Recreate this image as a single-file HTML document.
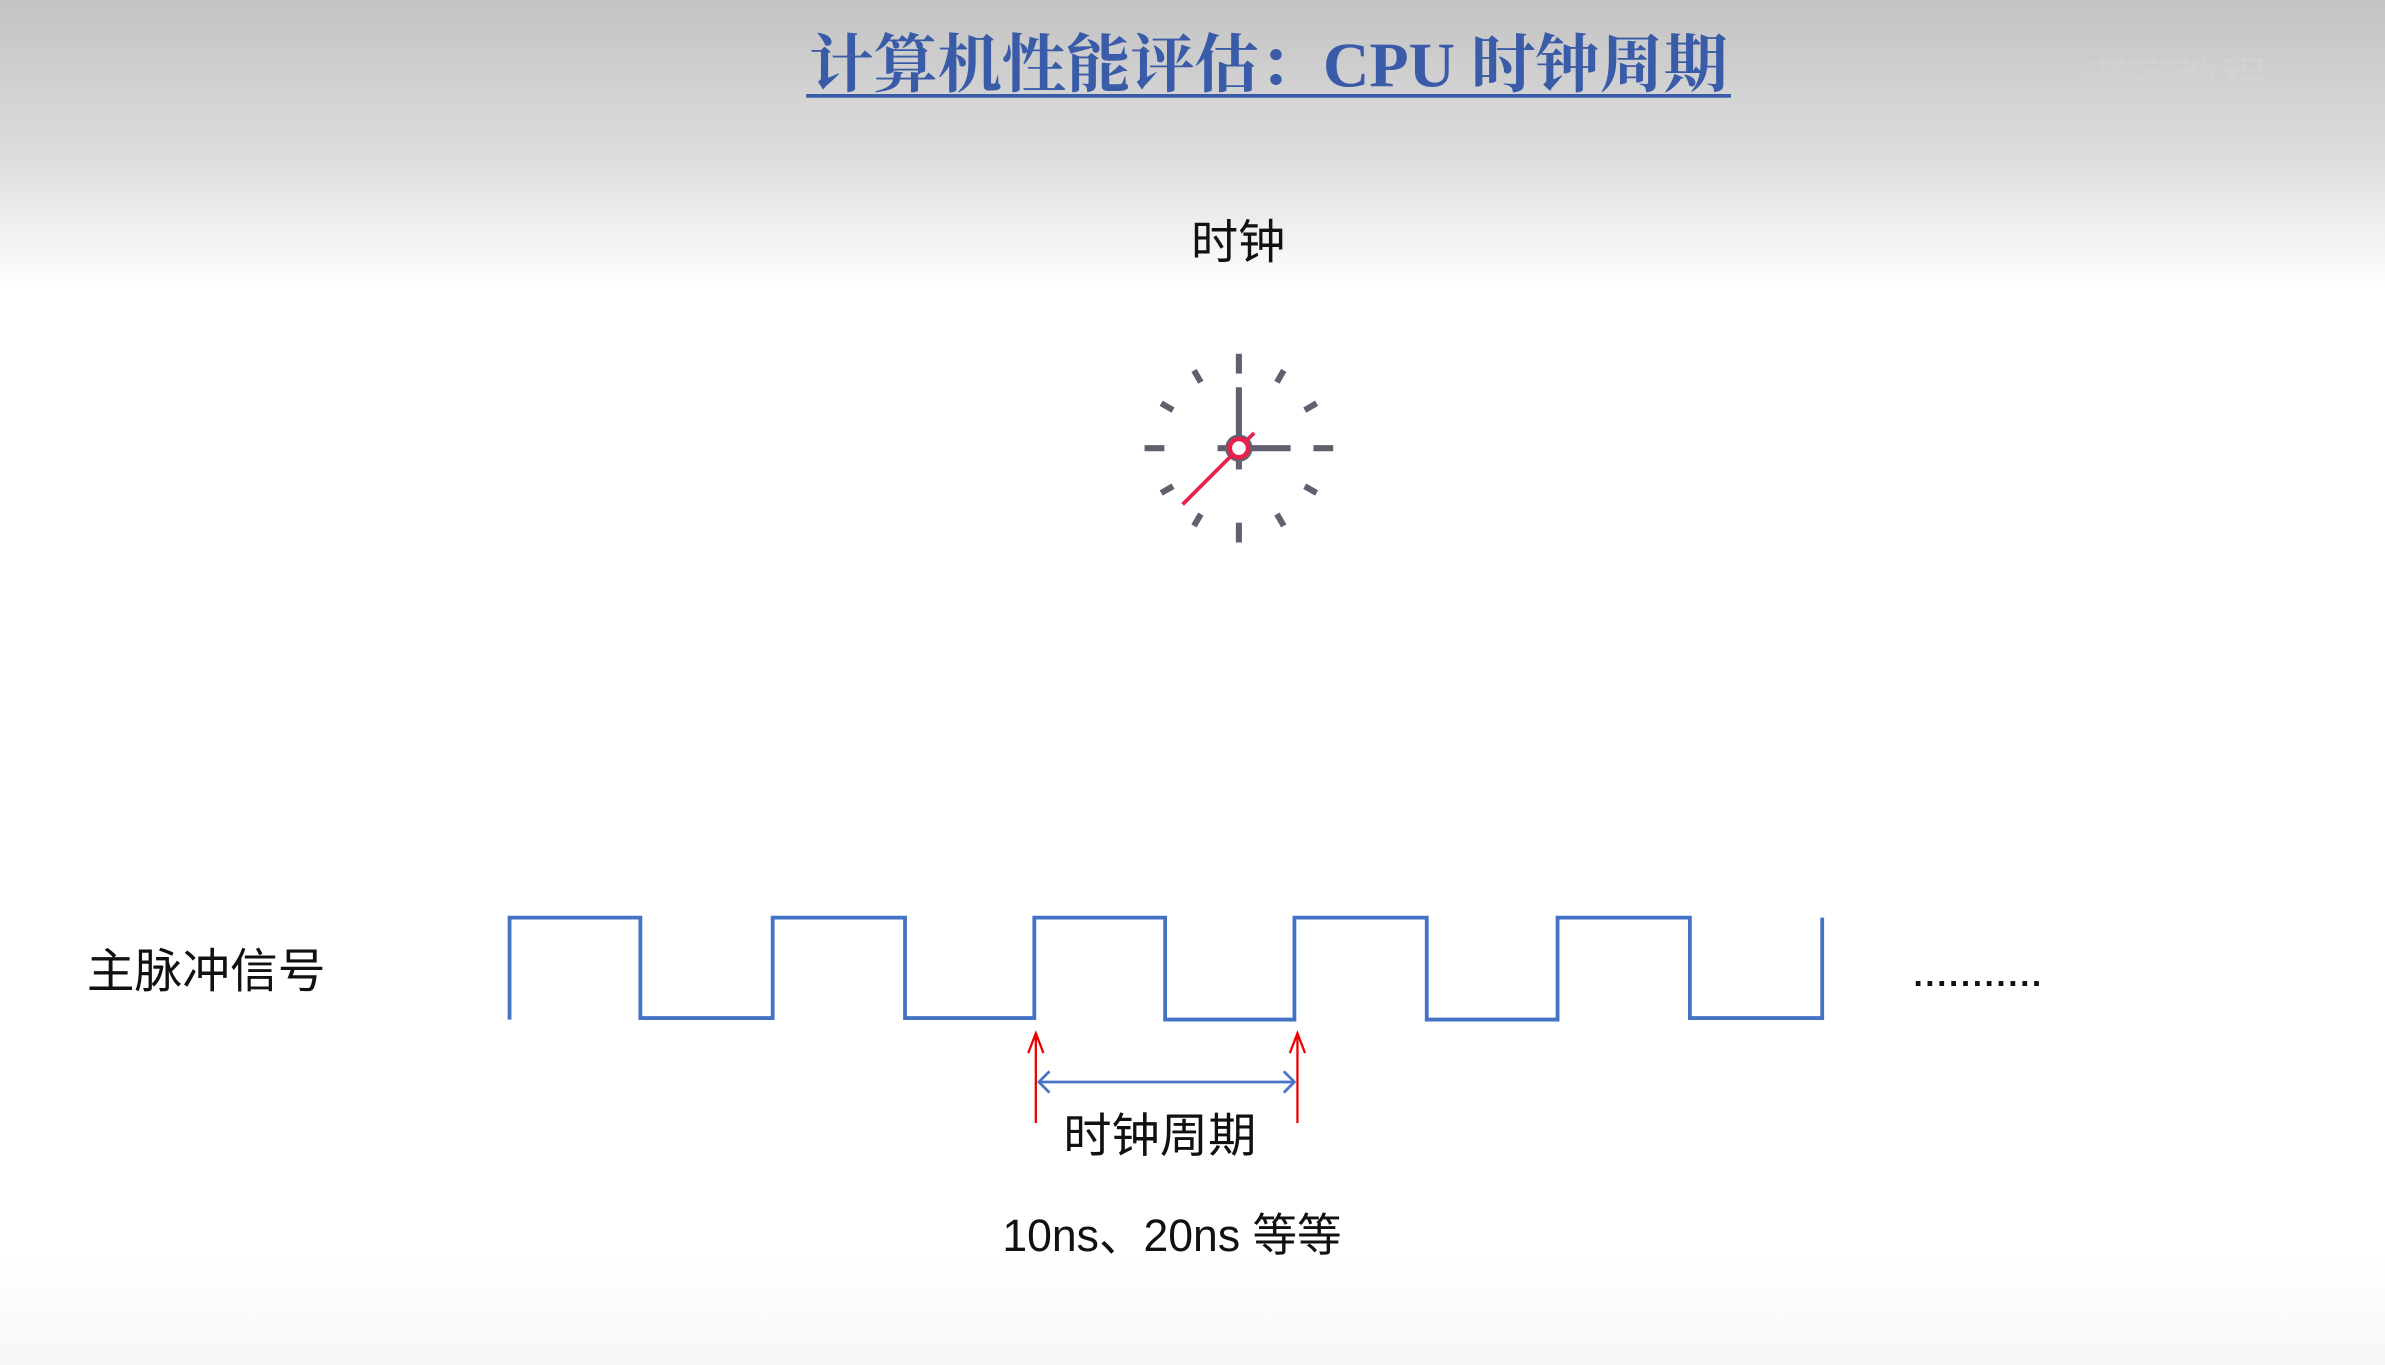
<!DOCTYPE html>
<html><head><meta charset="utf-8"><style>
html,body{margin:0;padding:0;}
body{width:2385px;height:1365px;overflow:hidden;background:#fff;}
svg{display:block;}
</style></head><body>
<svg width="2385" height="1365" viewBox="0 0 1568 897" preserveAspectRatio="none" xmlns="http://www.w3.org/2000/svg">
<defs>
<linearGradient id="bg" x1="0" y1="0" x2="0" y2="1">
<stop offset="0" stop-color="#c3c3c3"/>
<stop offset="0.12" stop-color="#dedede"/>
<stop offset="0.21" stop-color="#ffffff"/>
<stop offset="0.92" stop-color="#ffffff"/>
<stop offset="1" stop-color="#f7f7f7"/>
</linearGradient>
</defs>
<rect x="0" y="0" width="1568" height="897" fill="url(#bg)"/>
<text x="532" y="57" textLength="604" lengthAdjust="spacingAndGlyphs" font-family="'Liberation Serif','Noto Serif CJK SC',serif" font-size="42" font-weight="bold" fill="#3a5ca8">计算机性能评估：CPU 时钟周期</text>
<line x1="530" y1="63" x2="1138" y2="63" stroke="#3a5ca8" stroke-width="2.5"/>
<text x="1430" y="62" text-anchor="middle" font-family="'Liberation Sans','Noto Sans CJK SC',sans-serif" font-size="30" fill="#d4d4d4" opacity="0.6">老齐教程</text>
<text x="814" y="170" text-anchor="middle" font-family="'Liberation Sans','Noto Sans CJK SC',sans-serif" font-size="31" fill="#111">时钟</text>
<g transform="translate(814.5,294.5)" stroke="#62606f" stroke-width="4">
<line x1="0" y1="-62" x2="0" y2="-49"/>
<line x1="0" y1="-62" x2="0" y2="-49" transform="rotate(90)"/>
<line x1="0" y1="-62" x2="0" y2="-49" transform="rotate(180)"/>
<line x1="0" y1="-62" x2="0" y2="-49" transform="rotate(270)"/>
<line x1="0" y1="-59" x2="0" y2="-50" transform="rotate(30)"/>
<line x1="0" y1="-59" x2="0" y2="-50" transform="rotate(60)"/>
<line x1="0" y1="-59" x2="0" y2="-50" transform="rotate(120)"/>
<line x1="0" y1="-59" x2="0" y2="-50" transform="rotate(150)"/>
<line x1="0" y1="-59" x2="0" y2="-50" transform="rotate(210)"/>
<line x1="0" y1="-59" x2="0" y2="-50" transform="rotate(240)"/>
<line x1="0" y1="-59" x2="0" y2="-50" transform="rotate(300)"/>
<line x1="0" y1="-59" x2="0" y2="-50" transform="rotate(330)"/>
<line x1="0" y1="0" x2="0" y2="-40"/>
<line x1="0" y1="0" x2="34" y2="0"/>
<line x1="-14" y1="0" x2="0" y2="0"/>
<line x1="0" y1="0" x2="0" y2="14"/>
<circle cx="0" cy="0" r="9" fill="#62606f" stroke="none"/>
<line x1="-37" y1="37" x2="10" y2="-10" stroke="#e8204a" stroke-width="2.5"/>
<circle cx="0" cy="0" r="6" fill="#fff" stroke="#e8204a" stroke-width="3"/>
</g>
<text x="57" y="649" textLength="157" lengthAdjust="spacingAndGlyphs" font-family="'Liberation Sans','Noto Sans CJK SC',sans-serif" font-size="31" fill="#111">主脉冲信号</text>
<polyline fill="none" stroke="#4472c4" stroke-width="2.5" points="335,670 335,603 421,603 421,669 508,669 508,603 595,603 595,669 680,669 680,603 766,603 766,670 851,670 851,603 938,603 938,670 1024,670 1024,603 1111,603 1111,669 1198,669 1198,603"/>
<text x="1258" y="648" textLength="84" lengthAdjust="spacing" font-family="'Liberation Sans',sans-serif" font-size="22" font-weight="bold" fill="#111">...........</text>
<g stroke="#e00" stroke-width="1.5" fill="none">
<line x1="681" y1="738" x2="681" y2="679"/>
<polyline points="676,692 681,679 686,692"/>
<line x1="853" y1="738" x2="853" y2="679"/>
<polyline points="848,692 853,679 858,692"/>
</g>
<g stroke="#4a72c8" stroke-width="1.8" fill="none">
<line x1="683" y1="711" x2="851" y2="711"/>
<polyline points="690,704 683,711 690,718"/>
<polyline points="844,704 851,711 844,718"/>
</g>
<text x="699" y="757" textLength="127" lengthAdjust="spacingAndGlyphs" font-family="'Liberation Sans','Noto Sans CJK SC',sans-serif" font-size="31" fill="#111">时钟周期</text>
<text x="659" y="822" textLength="223" lengthAdjust="spacingAndGlyphs" font-family="'Liberation Sans','Noto Sans CJK SC',sans-serif" font-size="30" fill="#111">10ns、20ns 等等</text>
</svg>
</body></html>
